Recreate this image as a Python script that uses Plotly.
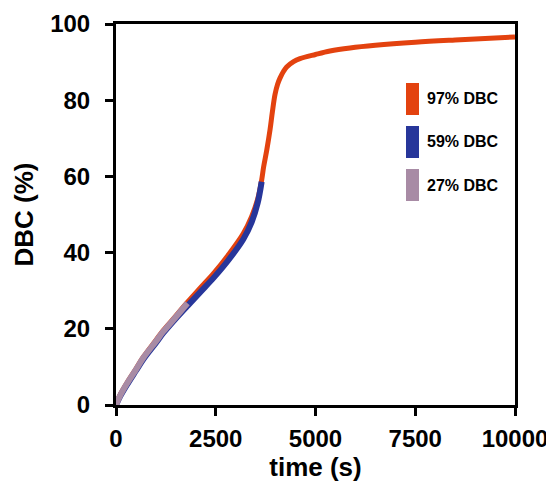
import plotly.graph_objects as go

# Data
t_97 = [0, 100, 268, 500, 685, 1000, 1186, 1500, 1790, 2100, 2456, 2800, 3190, 3400, 3550,
        3650, 3700, 3780, 3860, 3920, 3985, 4050, 4110, 4200, 4277, 4450, 4611, 5000, 5363,
        5865, 6500, 7500, 8500, 10000]
dbc_97 = [0, 2.6, 5.7, 9.5, 12.6, 17.0, 19.6, 23.4, 27.0, 30.6, 34.7, 39.2, 45.0, 49.5, 54.0,
          59.0, 62.5, 67.0, 72.2, 77.0, 81.5, 84.2, 85.8, 87.6, 88.7, 90.1, 90.9, 92.0, 92.9,
          93.7, 94.4, 95.2, 95.8, 96.6]

t_59 = [0, 100, 268, 500, 685, 1000, 1186, 1500, 1790, 2100, 2456, 2800, 3190, 3400, 3550, 3650]
dbc_59 = [0, 2.2, 5.2, 9.0, 12.0, 16.3, 18.9, 22.7, 26.0, 29.5, 33.5, 37.8, 43.5, 48.0, 53.0, 58.6]

t_27 = [0, 100, 268, 500, 685, 1000, 1186, 1500, 1790]
dbc_27 = [0, 2.4, 5.5, 9.3, 12.4, 16.7, 19.3, 23.1, 26.7]

series_names = ["97% DBC", "59% DBC", "27% DBC"]
series_colors = ["#E3420F", "#27369A", "#A88BA5"]

x_ticks = [0, 2500, 5000, 7500, 10000]
y_ticks = [0, 20, 40, 60, 80, 100]

FONT = "Liberation Sans, Arial, sans-serif"

fig = go.Figure()
fig.add_trace(go.Scatter(x=t_97, y=dbc_97, mode="lines", name=series_names[0],
                         line=dict(color=series_colors[0], width=5, shape="spline", smoothing=1.0)))
fig.add_trace(go.Scatter(x=t_59, y=dbc_59, mode="lines", name=series_names[1],
                         line=dict(color=series_colors[1], width=6, shape="spline", smoothing=1.0)))
fig.add_trace(go.Scatter(x=t_27, y=dbc_27, mode="lines", name=series_names[2],
                         line=dict(color=series_colors[2], width=6, shape="spline", smoothing=1.0)))

# Custom legend: tall colored bars with labels
rect_y = [(0.8451, 0.7612), (0.7323, 0.6483), (0.6194, 0.5354)]
for (y0, y1), name, col in zip(rect_y, series_names, series_colors):
    fig.add_shape(type="rect", xref="paper", yref="paper", x0=0.7268, x1=0.7594,
                  y0=y1, y1=y0, fillcolor=col, line=dict(width=0))
    fig.add_annotation(xref="paper", yref="paper", x=0.774, y=(y0 + y1) / 2,
                       text="<b>%s</b>" % name, showarrow=False, xanchor="left", yanchor="middle",
                       font=dict(family=FONT, size=16, color="black"))

axis_common = dict(showgrid=False, zeroline=False, showline=True, linecolor="black", linewidth=3,
                   mirror=True, ticks="outside", ticklen=8, tickwidth=3, tickcolor="black",
                   automargin=False,
                   tickfont=dict(family=FONT, size=24, color="black", weight="bold"))

# page body has an 8px margin, so the figure is sized/offset to compensate
fig.update_layout(
    width=546, height=483, autosize=False,
    margin=dict(l=108, r=39, t=16, b=86),
    plot_bgcolor="white", paper_bgcolor="white",
    showlegend=False,
    xaxis=dict(range=[0, 10000], tickvals=x_ticks, ticktext=[str(v) for v in x_ticks],
               ticklabelstandoff=2,
               title=dict(text="<b>time (s)</b>", font=dict(family=FONT, size=26, color="black"),
                          standoff=4),
               **axis_common),
    yaxis=dict(range=[0, 100], tickvals=y_ticks, ticktext=[str(v) for v in y_ticks],
               ticklabelstandoff=10,
               title=dict(text="<b>DBC (%)</b>", font=dict(family=FONT, size=26, color="black"),
                          standoff=10),
               **axis_common),
)

fig.write_html("out.html")
